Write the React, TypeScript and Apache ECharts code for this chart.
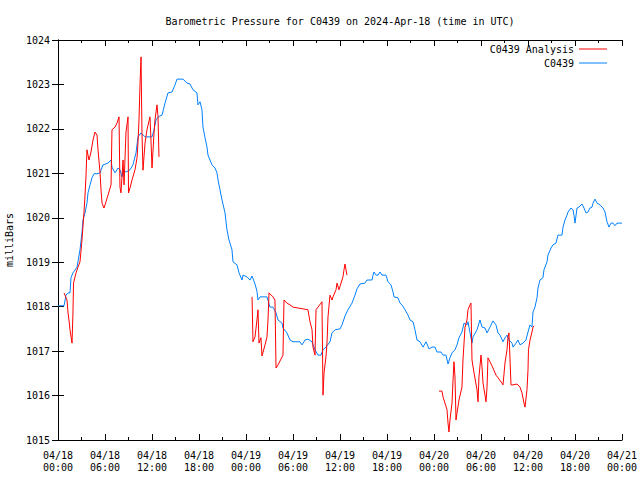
import React, { useEffect, useRef } from "react";
import * as echarts from "echarts";

// hours since 2024-04-18 00:00 UTC
const blueHours = [0, 0.77, 1.02, 1.28, 1.53, 1.66, 1.91, 2.43, 2.81, 3.06, 3.19, 3.45, 3.7, 3.83, 4.09, 4.34, 4.6, 4.98, 5.36, 5.74, 6.38, 6.77, 6.89, 7.28, 7.66, 7.91, 8.17, 8.3, 8.68, 9.19, 9.57, 9.96, 10.21, 10.6, 11.11, 12.0, 12.26, 12.51, 12.77, 13.28, 13.66, 14.04, 14.55, 14.94, 15.19, 15.96, 16.47, 16.85, 17.23, 17.74, 17.87, 18.13, 18.38, 18.51, 18.77, 19.02, 19.15, 19.66, 20.04, 20.3, 20.43, 20.68, 20.94, 21.32, 21.57, 21.83, 22.21, 22.34, 22.85, 23.11, 23.49, 23.62, 24.13, 24.51, 24.77, 25.15, 25.4, 25.53, 25.79, 26.68, 27.06, 27.45, 27.83, 28.09, 28.6, 28.72, 29.23, 29.62, 30.0, 30.89, 31.15, 31.53, 31.91, 32.43, 32.81, 33.19, 33.57, 33.83, 34.21, 34.72, 34.98, 35.36, 36.0, 36.26, 36.64, 37.02, 37.53, 37.91, 38.17, 38.55, 39.19, 39.45, 40.09, 40.21, 40.34, 40.6, 40.85, 41.11, 41.36, 41.87, 42.13, 42.51, 42.77, 42.89, 43.4, 43.66, 43.91, 44.3, 44.68, 44.94, 45.32, 45.57, 45.83, 46.21, 46.6, 46.98, 47.36, 47.74, 48.13, 48.38, 48.89, 49.15, 49.53, 49.79, 50.04, 50.3, 50.68, 50.94, 51.19, 51.57, 51.83, 52.21, 52.34, 52.6, 52.85, 52.98, 53.49, 53.87, 54.13, 54.51, 54.77, 55.15, 55.53, 55.91, 56.17, 56.43, 56.81, 57.06, 57.32, 57.57, 57.96, 58.09, 58.47, 58.72, 58.98, 59.36, 59.74, 60.0, 60.26, 60.51, 60.64, 60.89, 61.15, 61.28, 61.53, 61.91, 62.04, 62.43, 62.55, 62.94, 63.19, 63.57, 63.83, 64.34, 64.47, 64.72, 64.98, 65.11, 65.49, 65.74, 65.87, 66.0, 66.26, 66.51, 66.89, 67.15, 67.4, 67.66, 67.91, 68.17, 68.3, 68.55, 68.81, 69.19, 69.57, 69.83, 70.09, 70.34, 70.6, 70.85, 71.11, 71.36, 72.0];
const bluePressure = [1018.02, 1018.02, 1018.26, 1018.31, 1018.31, 1018.65, 1018.76, 1018.89, 1019.28, 1019.66, 1019.95, 1020.11, 1020.33, 1020.56, 1020.74, 1020.9, 1020.99, 1020.99, 1021.01, 1021.19, 1021.23, 1021.3, 1021.14, 1021.01, 1021.12, 1021.08, 1020.92, 1021.08, 1021.03, 1021.08, 1021.19, 1021.46, 1021.82, 1021.91, 1021.82, 1021.82, 1021.98, 1022.2, 1022.27, 1022.31, 1022.58, 1022.81, 1022.83, 1022.99, 1023.12, 1023.12, 1023.03, 1023.01, 1022.88, 1022.81, 1022.54, 1022.61, 1022.43, 1022.04, 1021.8, 1021.59, 1021.41, 1021.19, 1021.12, 1021.01, 1020.85, 1020.63, 1020.4, 1020.11, 1019.73, 1019.5, 1019.28, 1019.01, 1018.94, 1018.76, 1018.6, 1018.71, 1018.67, 1018.6, 1018.69, 1018.51, 1018.35, 1018.15, 1018.22, 1018.22, 1017.99, 1017.99, 1017.86, 1017.7, 1017.63, 1017.52, 1017.41, 1017.25, 1017.21, 1017.21, 1017.14, 1017.25, 1017.27, 1017.21, 1017.03, 1016.91, 1016.91, 1017.03, 1017.09, 1017.21, 1017.41, 1017.48, 1017.5, 1017.59, 1017.79, 1017.93, 1018.08, 1018.26, 1018.4, 1018.51, 1018.53, 1018.6, 1018.6, 1018.71, 1018.78, 1018.71, 1018.71, 1018.78, 1018.71, 1018.71, 1018.56, 1018.49, 1018.33, 1018.22, 1018.2, 1018.08, 1018.04, 1017.93, 1017.81, 1017.7, 1017.66, 1017.48, 1017.25, 1017.21, 1017.09, 1017.21, 1017.05, 1017.09, 1017.09, 1016.98, 1016.98, 1016.91, 1016.91, 1016.71, 1016.85, 1016.96, 1017.03, 1017.14, 1017.3, 1017.43, 1017.63, 1017.59, 1017.66, 1017.41, 1017.18, 1017.32, 1017.48, 1017.7, 1017.54, 1017.52, 1017.41, 1017.54, 1017.68, 1017.59, 1017.41, 1017.36, 1017.21, 1017.3, 1017.36, 1017.25, 1017.18, 1017.09, 1017.18, 1017.25, 1017.14, 1017.18, 1017.25, 1017.43, 1017.59, 1017.54, 1017.88, 1017.99, 1018.2, 1018.42, 1018.6, 1018.65, 1018.83, 1019.01, 1019.16, 1019.32, 1019.39, 1019.43, 1019.61, 1019.61, 1019.79, 1019.95, 1020.06, 1020.13, 1020.22, 1020.18, 1020.06, 1019.88, 1020.22, 1020.24, 1020.31, 1020.22, 1020.11, 1020.13, 1020.22, 1020.24, 1020.33, 1020.42, 1020.33, 1020.29, 1020.22, 1020.13, 1019.91, 1019.79, 1019.88, 1019.88, 1019.82, 1019.88, 1019.88];

// null entries break the analysis line into its three pieces
const redHours = [0.77, 0.89, 1.15, 1.28, 1.4, 1.53, 1.79, 1.91, 1.98, 2.3, 2.55, 2.81, 3.06, 3.32, 3.45, 3.57, 3.7, 3.83, 3.96, 4.21, 4.47, 4.72, 4.98, 5.11, 5.36, 5.49, 5.62, 5.87, 6.13, 6.38, 6.77, 6.89, 7.28, 7.53, 7.79, 7.91, 8.04, 8.3, 8.43, 8.68, 8.94, 9.0, 9.19, 9.45, 9.83, 10.09, 10.21, 10.34, 10.47, 10.6, 10.72, 10.85, 11.11, 11.36, 11.74, 11.87, 12.0, 12.26, 12.38, 12.64, 12.77, 12.89,
  18.0,
  24.77, 24.89, 25.15, 25.4, 25.53, 25.66, 25.91, 26.04, 26.43, 26.68, 26.81, 26.94, 27.45, 27.7, 27.83, 28.09, 28.72, 28.85, 29.23, 29.62, 30.0, 30.64, 31.28, 31.91, 32.17, 32.43, 32.55, 32.81, 32.94, 33.19, 33.57, 33.7, 33.83, 33.96, 34.21, 34.34, 34.47, 34.72, 34.98, 35.11, 35.49, 35.62, 35.87, 36.13, 36.38, 36.51, 36.64, 36.89,
  42.0,
  48.64, 49.02, 49.15, 49.4, 49.66, 49.79, 49.91, 50.04, 50.3, 50.43, 50.55, 50.68, 50.81, 50.94, 51.19, 51.57, 51.7, 51.96, 52.21, 52.34, 52.6, 52.72, 52.85, 53.11, 53.49, 53.62, 53.74, 54.0, 54.13, 54.26, 54.51, 54.64, 54.77, 54.89, 55.15, 55.53, 55.91, 56.17, 56.68, 56.81, 57.06, 57.32, 57.45, 57.57, 57.83, 58.09, 58.6, 58.98, 59.23, 59.49, 59.62, 59.87, 60.0, 60.06, 60.26, 60.51, 60.64, 60.77];
const redPressure: (number | null)[] = [1018.31, 1018.26, 1018.15, 1017.86, 1017.7, 1017.48, 1017.18, 1017.86, 1018.53, 1018.76, 1018.89, 1019.01, 1019.5, 1020.13, 1020.51, 1020.92, 1021.53, 1021.41, 1021.3, 1021.48, 1021.75, 1021.93, 1021.86, 1021.53, 1021.03, 1020.63, 1020.33, 1020.22, 1020.36, 1020.51, 1020.74, 1021.98, 1022.04, 1022.13, 1022.27, 1020.69, 1020.56, 1021.3, 1020.74, 1021.93, 1022.27, 1020.56, 1020.67, 1020.85, 1021.08, 1021.35, 1021.68, 1022.2, 1022.99, 1023.62, 1021.91, 1021.07, 1021.68, 1021.98, 1022.27, 1021.75, 1021.12, 1021.91, 1022.2, 1022.54, 1022.27, 1021.37,
  null,
  1018.22, 1017.21, 1017.32, 1017.7, 1017.93, 1017.18, 1017.3, 1016.89, 1017.14, 1017.32, 1017.7, 1018.31, 1018.22, 1018.15, 1016.62, 1016.69, 1016.91, 1018.15, 1018.08, 1018.04, 1017.99, 1017.97, 1017.95, 1017.93, 1017.66, 1017.48, 1017.09, 1016.91, 1017.93, 1017.99, 1018.08, 1018.11, 1016.01, 1016.51, 1016.87, 1017.18, 1017.77, 1018.26, 1018.15, 1018.22, 1018.38, 1018.53, 1018.38, 1018.53, 1018.67, 1018.83, 1018.96, 1018.71,
  null,
  1016.1, 1016.1, 1015.97, 1015.83, 1015.68, 1015.38, 1015.18, 1015.45, 1015.83, 1016.35, 1016.76, 1016.42, 1015.45, 1015.61, 1015.9, 1016.19, 1016.8, 1017.54, 1017.7, 1017.93, 1018.04, 1018.08, 1016.8, 1016.51, 1016.13, 1015.86, 1016.42, 1016.91, 1016.64, 1016.28, 1016.01, 1015.86, 1016.19, 1016.85, 1016.76, 1016.62, 1016.46, 1016.4, 1016.28, 1016.24, 1016.73, 1017.03, 1017.32, 1017.41, 1016.24, 1016.24, 1016.26, 1016.19, 1016.06, 1015.83, 1015.74, 1016.13, 1016.58, 1017.03, 1017.25, 1017.43, 1017.54, 1017.57];

const seriesNames = ["C0439 Analysis", "C0439"];
const titleText = "Barometric Pressure for C0439 on 2024-Apr-18 (time in UTC)";
const startDay = 18;

const FONT = "DejaVu Sans Mono";

function fmtX(v: number): string {
  const day = startDay + Math.floor(v / 24);
  const hr = v % 24;
  return `04/${String(day).padStart(2, "0")}\n${String(hr).padStart(2, "0")}:00`;
}

export default function App() {
  const ref = useRef<HTMLDivElement>(null);
  useEffect(() => {
    document.body.style.margin = "0";
    if (!ref.current) return;
    const chart = echarts.init(ref.current, null, { renderer: "svg" });
    const blueData = blueHours.map((h, i) => [h, bluePressure[i]]);
    const redData = redHours.map((h, i) => [h, redPressure[i] === null ? "-" : redPressure[i]]);
    const axisLine = { show: true, lineStyle: { color: "#000", width: 1 } };
    const xCommon = {
      type: "value" as const,
      min: 0,
      max: 72,
      interval: 6,
      axisLine,
      axisTick: { show: true, inside: true, length: 6, lineStyle: { color: "#000" } },
      minorTick: { show: true, splitNumber: 2, length: 3, lineStyle: { color: "#000" } },
      splitLine: { show: false },
      minorSplitLine: { show: false },
    };
    const yCommon = {
      type: "value" as const,
      min: 1015,
      max: 1024,
      interval: 1,
      axisLine,
      axisTick: { show: true, inside: true, length: 6, lineStyle: { color: "#000" } },
      splitLine: { show: false },
    };
    chart.setOption({
      animation: false,
      backgroundColor: "#fff",
      title: {
        text: titleText,
        left: 335,
        textAlign: "center",
        top: 11,
        textStyle: { fontFamily: FONT, fontSize: 10, fontWeight: "normal", color: "#000" },
      },
      legend: {
        right: 28,
        top: 38,
        orient: "vertical",
        align: "right",
        itemWidth: 28,
        itemHeight: 1,
        itemGap: 2,
        icon: "rect",
        textStyle: { fontFamily: FONT, fontSize: 10, color: "#000", lineHeight: 12 },
        data: seriesNames,
      },
      grid: { left: 58, right: 18, top: 40, bottom: 40, containLabel: false, outerBoundsMode: "none" },
      xAxis: [
        {
          ...xCommon,
          position: "bottom",
          axisLabel: {
            formatter: fmtX,
            fontFamily: FONT,
            fontSize: 10,
            color: "#000",
            lineHeight: 12,
            margin: 9,
          },
        },
        { ...xCommon, position: "top", axisLabel: { show: false } },
      ],
      yAxis: [
        {
          ...yCommon,
          position: "left",
          name: "milliBars",
          nameLocation: "middle",
          nameGap: 44,
          nameRotate: 90,
          nameTextStyle: { fontFamily: FONT, fontSize: 10, color: "#000" },
          axisLabel: { fontFamily: FONT, fontSize: 10, color: "#000", margin: 8, formatter: (v: number) => String(v) },
        },
        { ...yCommon, position: "right", axisLabel: { show: false } },
      ],
      series: [
        {
          name: seriesNames[0],
          type: "line",
          data: redData,
          showSymbol: false,
          symbol: "none",
          connectNulls: false,
          lineStyle: { color: "#ff0000", width: 1 },
          itemStyle: { color: "#ff0000" },
          z: 3,
        },
        {
          name: seriesNames[1],
          type: "line",
          data: blueData,
          showSymbol: false,
          symbol: "none",
          lineStyle: { color: "#0080ff", width: 1 },
          itemStyle: { color: "#0080ff" },
          z: 2,
        },
      ],
    });
    return () => chart.dispose();
  }, []);
  return <div ref={ref} style={{ width: 640, height: 480 }} />;
}
